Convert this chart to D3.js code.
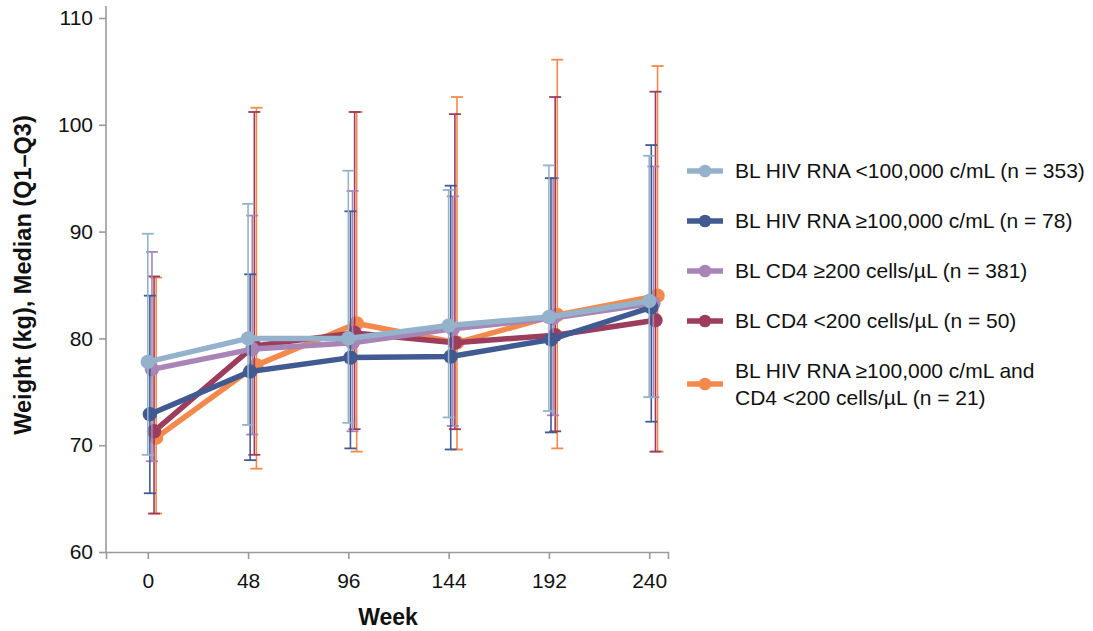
<!DOCTYPE html>
<html>
<head>
<meta charset="utf-8">
<script src="https://cdn.jsdelivr.net/npm/d3@7"></script>
<style>
  body { margin: 0; background: #fff; }
  svg { display: block; font-family: "Liberation Sans", Arial, sans-serif; }
</style>
</head>
<body>
<svg id="chart" width="1093" height="631"></svg>
<script>
// Study weeks
const weeks = [0, 48, 96, 144, 192, 240];
const yTicks = [60, 70, 80, 90, 100, 110];

// Subgroup labels (legend order)
const seriesNames = [
  ["BL HIV RNA <100,000 c/mL (n = 353)"],
  ["BL HIV RNA \u2265100,000 c/mL (n = 78)"],
  ["BL CD4 \u2265200 cells/\u00b5L (n = 381)"],
  ["BL CD4 <200 cells/\u00b5L (n = 50)"],
  ["BL HIV RNA \u2265100,000 c/mL and", "CD4 <200 cells/\u00b5L (n = 21)"]
];
const seriesColors = ["#94b2cb", "#415b92", "#a984b6", "#9c3d5e", "#f3894b"];

// Median weight (kg)
const median = [
  [77.8, 80.0, 80.0, 81.2, 82.0, 83.5],
  [72.9, 76.9, 78.2, 78.3, 79.9, 82.9],
  [77.1, 79.0, 79.6, 80.9, 81.9, 83.3],
  [71.3, 79.3, 80.5, 79.6, 80.3, 81.7],
  [70.7, 77.5, 81.4, 79.6, 82.2, 84.0]
];
// First quartile
const q1 = [
  [69.1, 71.9, 72.1, 72.6, 73.2, 74.5],
  [65.5, 68.6, 69.7, 69.6, 71.2, 72.2],
  [68.5, 71.0, 71.3, 71.8, 72.8, 74.5],
  [63.6, 69.1, 71.5, 71.5, 71.3, 69.4],
  [63.6, 67.8, 69.4, 69.6, 69.7, 69.4]
];
// Third quartile
const q3 = [
  [89.8, 92.6, 95.7, 93.9, 96.2, 97.1],
  [84.0, 86.0, 91.9, 94.3, 95.0, 98.1],
  [88.1, 91.5, 93.8, 93.3, 95.0, 96.1],
  [85.8, 101.2, 101.2, 101.0, 102.6, 103.1],
  [85.7, 101.6, 101.2, 102.6, 106.1, 105.5]
];
// Horizontal dodge per subgroup, in weeks
const dodge = [0, 1, 2, 3, 4];

const svg = d3.select("#chart");
const x = d3.scaleLinear().domain([-20, 249]).range([106, 668]);
const y = d3.scaleLinear().domain([60, 110]).range([552, 18]);

const axisColor = "#9a9a9a";

// Y axis
const yAxis = svg.append("g")
  .attr("transform", `translate(${x.range()[0]},0)`)
  .call(d3.axisLeft(y).tickValues(yTicks).tickSize(7).tickPadding(6));
yAxis.select(".domain").remove();
yAxis.append("line")
  .attr("x1", 0).attr("x2", 0)
  .attr("y1", 6).attr("y2", y.range()[0])
  .attr("stroke", axisColor).attr("stroke-width", 1.6);

// X axis
const xAxis = svg.append("g")
  .attr("transform", `translate(0,${y.range()[0]})`)
  .call(d3.axisBottom(x).tickValues(weeks).tickSize(7).tickPadding(14));

[yAxis, xAxis].forEach(g => {
  g.select(".domain").attr("stroke", axisColor).attr("stroke-width", 1.6);
  g.selectAll(".tick line").attr("stroke", axisColor).attr("stroke-width", 1.6);
  g.selectAll(".tick text").attr("fill", "#111").style("font-size", "21px");
});

// Axis titles
svg.append("text")
  .attr("x", 388).attr("y", 625)
  .attr("text-anchor", "middle")
  .style("font-size", "23px").style("font-weight", "bold").attr("fill", "#111")
  .text("Week");
svg.append("text")
  .attr("transform", "translate(31,275) rotate(-90)")
  .attr("text-anchor", "middle")
  .style("font-size", "23.5px").style("font-weight", "bold").attr("fill", "#111")
  .text("Weight (kg), Median (Q1\u2013Q3)");

// Series: drawn from last to first so the first subgroup sits on top
const line = d3.line().x(d => d.px).y(d => d.py);
const capHalf = 6;

for (let s = seriesNames.length - 1; s >= 0; s--) {
  const color = seriesColors[s];
  const pts = weeks.map((w, i) => ({
    px: x(w + dodge[s]),
    py: y(median[s][i]),
    lo: y(q1[s][i]),
    hi: y(q3[s][i])
  }));
  const g = svg.append("g");

  // Q1–Q3 whiskers
  const eb = g.selectAll(".eb").data(pts).enter().append("g");
  eb.append("line")
    .attr("x1", d => d.px).attr("x2", d => d.px)
    .attr("y1", d => d.lo).attr("y2", d => d.hi)
    .attr("stroke", color).attr("stroke-width", 1.6);
  eb.append("line")
    .attr("x1", d => d.px - capHalf).attr("x2", d => d.px + capHalf)
    .attr("y1", d => d.hi).attr("y2", d => d.hi)
    .attr("stroke", color).attr("stroke-width", 1.8);
  eb.append("line")
    .attr("x1", d => d.px - capHalf).attr("x2", d => d.px + capHalf)
    .attr("y1", d => d.lo).attr("y2", d => d.lo)
    .attr("stroke", color).attr("stroke-width", 1.8);

  // Median line
  g.append("path")
    .datum(pts)
    .attr("d", line)
    .attr("fill", "none")
    .attr("stroke", color)
    .attr("stroke-width", 5.5)
    .attr("stroke-linejoin", "round");

  // Median markers
  g.selectAll(".dot").data(pts).enter().append("circle")
    .attr("cx", d => d.px).attr("cy", d => d.py)
    .attr("r", 7.2).attr("fill", color);
}

// Legend
const legendRows = [171, 221, 271, 321, 384];
const legend = svg.append("g");
seriesNames.forEach((lines, s) => {
  const cy = legendRows[s];
  const color = seriesColors[s];
  legend.append("line")
    .attr("x1", 687).attr("x2", 723)
    .attr("y1", cy).attr("y2", cy)
    .attr("stroke", color).attr("stroke-width", 5.5);
  legend.append("circle")
    .attr("cx", 705).attr("cy", cy).attr("r", 6.3).attr("fill", color);
  const t = legend.append("text")
    .attr("x", 735)
    .style("font-size", "21px").attr("fill", "#111");
  const lh = 26.5;
  const y0 = cy - (lines.length - 1) * lh / 2;
  lines.forEach((str, k) => {
    t.append("tspan").attr("x", 735).attr("y", y0 + k * lh)
      .attr("dy", "0.35em").text(str);
  });
});
</script>
</body>
</html>
